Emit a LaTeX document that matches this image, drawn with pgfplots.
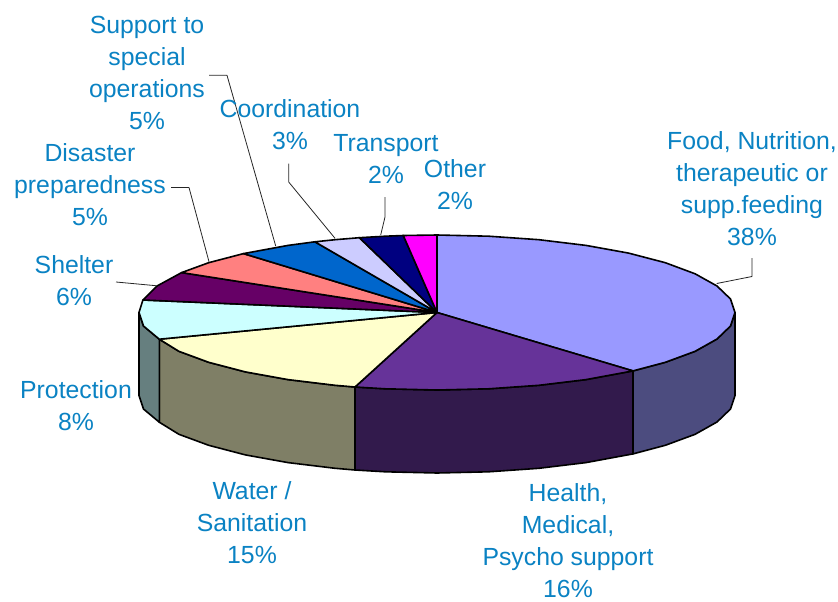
\documentclass[border=0pt]{standalone}
\usepackage{pgfplots}
\pgfplotsset{compat=1.18}
\usepackage{fontspec}
\setmainfont{Liberation Sans}
\definecolor{lab}{HTML}{0A82C3}
\tikzset{
  slice/.style={draw=black, line width=1.6pt, mark=none, line join=round},
  leader/.style={draw=black!85, line width=0.8pt, mark=none, line join=round},
  lbl/.style={text=lab, align=center, inner sep=0pt, font=\fontsize{24.8}{32}\selectfont},
}
\begin{document}
\begin{tikzpicture}
\begin{axis}[
  at={(0,0)}, anchor=south west,
  width=838pt, height=602pt, scale only axis,
  xmin=0, xmax=838, ymin=0, ymax=602, y dir=reverse,
  hide axis, clip=false,
]
\path (axis cs:0,0) rectangle (axis cs:838,602);
% sides
\addplot[slice, fill={rgb,255:red,76;green,76;blue,127}] coordinates {(735,312.5)(730.5,326)(717,339)(695.1,351.3)(665.3,362.3)(633,370.9)(633,453.9)(665.3,445.3)(695.1,434.3)(717,422)(730.5,409)(735,395.5)} --cycle;
\addplot[slice, fill={rgb,255:red,50;green,26;blue,76}] coordinates {(633,370.9)(586,379.6)(538.9,385.3)(488.7,388.8)(437,390)(385.3,388.8)(355,387)(355,470)(385.3,471.8)(437,473)(488.7,471.8)(538.9,468.3)(586,462.6)(633,453.9)} --cycle;
\addplot[slice, fill={rgb,255:red,127;green,127;blue,102}] coordinates {(355,387)(335.1,385.3)(288,379.6)(245.4,371.9)(208.7,362.3)(178.9,351.3)(159.3,339.2)(159.3,422.2)(178.9,434.3)(208.7,445.3)(245.4,454.9)(288,462.6)(335.1,468.3)(355,470)} --cycle;
\addplot[slice, fill={rgb,255:red,102;green,127;blue,127}] coordinates {(159.3,339.2)(143.5,326)(139,312.5)(139,395.5)(143.5,409)(159.3,422.2)} --cycle;
% top
\addplot[slice, fill={rgb,255:red,153;green,153;blue,255}] coordinates {(437,312.5)(437,235)(488.7,236.2)(538.9,239.7)(586,245.4)(628.6,253.1)(665.3,262.7)(695.1,273.8)(717,286)(730.5,299)(735,312.5)(730.5,326)(717,339)(695.1,351.3)(665.3,362.3)(633,370.9)} --cycle;
\addplot[slice, fill={rgb,255:red,102;green,51;blue,153}] coordinates {(437,312.5)(633,370.9)(586,379.6)(538.9,385.3)(488.7,388.8)(437,390)(385.3,388.8)(355,387)} --cycle;
\addplot[slice, fill={rgb,255:red,255;green,255;blue,204}] coordinates {(437,312.5)(355,387)(335.1,385.3)(288,379.6)(245.4,371.9)(208.7,362.3)(178.9,351.3)(159.3,339.2)} --cycle;
\addplot[slice, fill={rgb,255:red,204;green,255;blue,255}] coordinates {(437,312.5)(159.3,339.2)(143.5,326)(139,312.5)(142.9,300)} --cycle;
\addplot[slice, fill={rgb,255:red,102;green,0;blue,102}] coordinates {(437,312.5)(142.9,300)(157,286)(181.6,272.6)} --cycle;
\addplot[slice, fill={rgb,255:red,255;green,128;blue,128}] coordinates {(437,312.5)(181.6,272.6)(208.7,262.7)(243.5,253.6)} --cycle;
\addplot[slice, fill={rgb,255:red,0;green,102;blue,204}] coordinates {(437,312.5)(243.5,253.6)(288,245.4)(314.9,241.8)} --cycle;
\addplot[slice, fill={rgb,255:red,204;green,204;blue,255}] coordinates {(437,312.5)(314.9,241.8)(335.1,239.7)(359.4,237.7)} --cycle;
\addplot[slice, fill={rgb,255:red,0;green,0;blue,128}] coordinates {(437,312.5)(359.4,237.7)(385.3,236.2)(403.3,235.5)} --cycle;
\addplot[slice, fill={rgb,255:red,255;green,0;blue,255}] coordinates {(437,312.5)(403.3,235.5)(437,235)} --cycle;
% leaders
\addplot[leader] coordinates {(752,258)(752,276.5)(716.7,283.5)};
\addplot[leader] coordinates {(209,75.3)(227,75.3)(275.7,246)};
\addplot[leader] coordinates {(171,187.5)(189,187.5)(209,261.7)};
\addplot[leader] coordinates {(288.7,163.5)(288.7,182)(335,238.3)};
\addplot[leader] coordinates {(385,197)(385,217)(380.7,235)};
\addplot[leader] coordinates {(116,282)(156,285.7)};
% labels
\node[lbl] at (axis cs:752,188.5) {Food, Nutrition,\\therapeutic or\\supp.feeding\\38\%};
\node[lbl] at (axis cs:568,541) {Health,\\Medical,\\Psycho support\\16\%};
\node[lbl] at (axis cs:252,523) {Water /\\Sanitation\\15\%};
\node[lbl] at (axis cs:76,406) {Protection\\8\%};
\node[lbl] at (axis cs:74,281) {Shelter\\6\%};
\node[lbl] at (axis cs:90,185) {Disaster\\preparedness\\5\%};
\node[lbl] at (axis cs:147,73) {Support to\\special\\operations\\5\%};
\node[lbl] at (axis cs:290,125) {Coordination\\3\%};
\node[lbl] at (axis cs:386,159) {Transport\\2\%};
\node[lbl] at (axis cs:455,184.5) {Other\\2\%};
\end{axis}
\end{tikzpicture}
\end{document}
